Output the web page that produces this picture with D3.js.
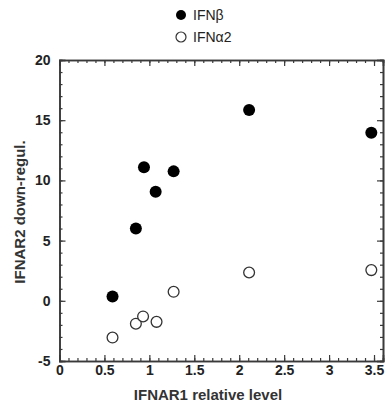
<!DOCTYPE html>
<html>
<head>
<meta charset="utf-8">
<script src="https://cdn.jsdelivr.net/npm/d3@7"></script>
<style>
  body { margin: 0; background: #fff; }
  svg text { font-family: "Liberation Sans", Arial, sans-serif; }
</style>
</head>
<body>
<div id="chart"></div>
<script>
// IFNβ (filled) and IFNα2 (open) points
var seriesNames = ["IFNβ", "IFNα2"];
var betaX = [0.59, 0.85, 0.94, 1.07, 1.27, 2.11, 3.47];
var betaY = [0.35, 6.0, 11.1, 9.05, 10.75, 15.85, 13.95];
var alphaX = [0.59, 0.85, 0.93, 1.08, 1.27, 2.11, 3.47];
var alphaY = [-3.05, -1.9, -1.3, -1.75, 0.75, 2.35, 2.55];
var xTicks = [0, 0.5, 1, 1.5, 2, 2.5, 3, 3.5];
var yTicks = [-5, 0, 5, 10, 15, 20];

var width = 387, height = 404;
var margin = { left: 59.5, right: 4, top: 60, bottom: 43 };
var axisColor = "#3a3a3a";

var svg = d3.select("#chart").append("svg")
  .attr("width", width)
  .attr("height", height);

var x = d3.scaleLinear().domain([0, 3.6]).range([margin.left, width - margin.right]);
var y = d3.scaleLinear().domain([-5, 20]).range([height - margin.bottom, margin.top]);

var fmt = function (d) { return String(d); };
var xMinor = d3.range(0, 3.6001, 0.1);
var yMinor = d3.range(-5, 20.001, 1);

// 轴 (ticks inward on all four sides)
var axes = [
  { fn: d3.axisBottom, scale: x, tr: "translate(0," + y(-5) + ")", minor: xMinor, major: xTicks, labels: true, pad: 4 },
  { fn: d3.axisTop, scale: x, tr: "translate(0," + y(20) + ")", minor: xMinor, major: xTicks, labels: false, pad: 4 },
  { fn: d3.axisLeft, scale: y, tr: "translate(" + x(0) + ",0)", minor: yMinor, major: yTicks, labels: true, pad: 9 },
  { fn: d3.axisRight, scale: y, tr: "translate(" + x(3.6) + ",0)", minor: yMinor, major: yTicks, labels: false, pad: 4 }
];

axes.forEach(function (a) {
  var gMinor = svg.append("g").attr("transform", a.tr)
    .call(a.fn(a.scale).tickValues(a.minor).tickSize(-3).tickFormat(""));
  var gMajor = svg.append("g").attr("transform", a.tr)
    .call(a.fn(a.scale).tickValues(a.major).tickSize(-6).tickPadding(a.pad)
      .tickFormat(a.labels ? fmt : ""));
  [gMinor, gMajor].forEach(function (g) {
    g.select(".domain").attr("stroke", axisColor).attr("stroke-width", 1.6);
    g.selectAll(".tick line").attr("stroke", axisColor).attr("stroke-width", 1.2);
    g.selectAll(".tick text")
      .attr("fill", "#222")
      .style("font-size", "14px")
      .style("font-weight", "bold")
      .style("font-family", '"Liberation Sans", Arial, sans-serif');
  });
});

// 点
var beta = betaX.map(function (v, i) { return { x: v, y: betaY[i] }; });
var alpha = alphaX.map(function (v, i) { return { x: v, y: alphaY[i] }; });

svg.append("g").selectAll("circle").data(beta).enter().append("circle")
  .attr("cx", function (d) { return x(d.x); })
  .attr("cy", function (d) { return y(d.y); })
  .attr("r", 6)
  .attr("fill", "#000");

svg.append("g").selectAll("circle").data(alpha).enter().append("circle")
  .attr("cx", function (d) { return x(d.x); })
  .attr("cy", function (d) { return y(d.y); })
  .attr("r", 5.4)
  .attr("fill", "#fff")
  .attr("stroke", "#333")
  .attr("stroke-width", 1.3);

// 轴标题
svg.append("text")
  .attr("x", 208).attr("y", 400)
  .attr("text-anchor", "middle")
  .attr("fill", "#333")
  .style("font-size", "15px").style("font-weight", "bold")
  .text("IFNAR1 relative level");

svg.append("text")
  .attr("transform", "translate(25,212)rotate(-90)")
  .attr("text-anchor", "middle")
  .attr("fill", "#333")
  .style("font-size", "15px").style("font-weight", "bold")
  .text("IFNAR2 down-regul.");

// 图例
var legend = svg.append("g");
seriesNames.forEach(function (name, i) {
  var cy = 15 + i * 22;
  legend.append("circle")
    .attr("cx", 181).attr("cy", cy).attr("r", 5)
    .attr("fill", i === 0 ? "#000" : "#fff")
    .attr("stroke", i === 0 ? "none" : "#333")
    .attr("stroke-width", 1.2);
  legend.append("text")
    .attr("x", 193).attr("y", cy + 5)
    .attr("fill", "#222")
    .style("font-size", "14px")
    .text(name);
});
</script>
</body>
</html>
